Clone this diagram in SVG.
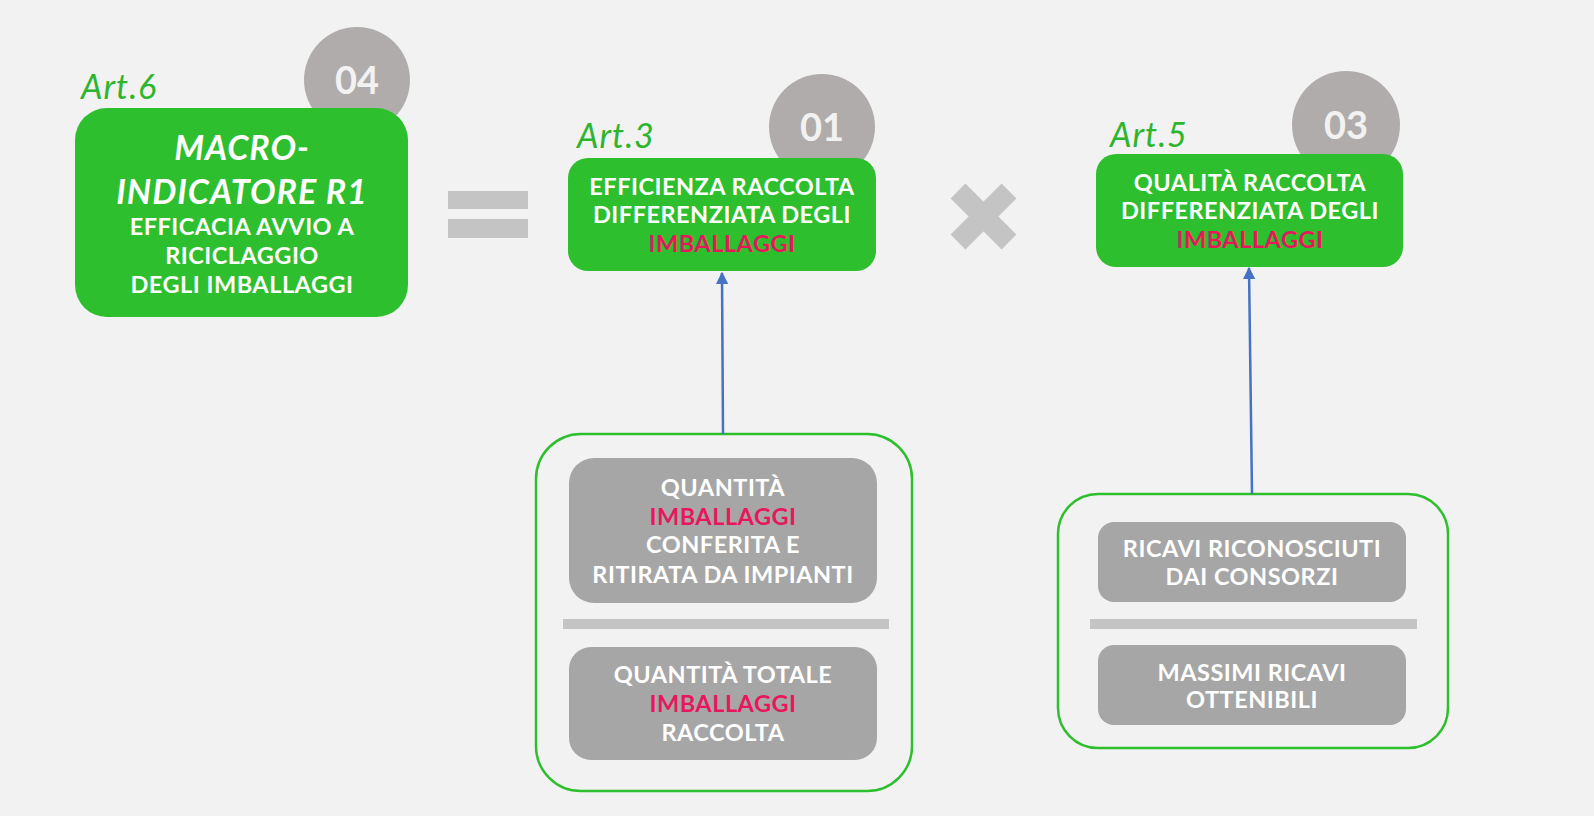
<svg xmlns="http://www.w3.org/2000/svg" width="1594" height="816" viewBox="0 0 1594 816">
<defs>
<style>
.bg{fill:#f2f2f2}
.green{fill:#2dbf2d}
.circ{fill:#b0acab}
.gbox{fill:#a6a6a6}
.outer{fill:none;stroke:#2dbf2d;stroke-width:2.5}
.sep{fill:#c4c4c4}
.art{font-family:Lato,"Liberation Sans",sans-serif;font-style:italic;font-size:34px;letter-spacing:1px;fill:#2db52d}
.num{font-family:Lato,"Liberation Sans",sans-serif;font-weight:bold;font-size:38px;fill:#f2f2f2;text-anchor:middle}
.t{font-family:Lato,"Liberation Sans",sans-serif;font-weight:bold;font-size:23.5px;letter-spacing:0.5px;fill:#ffffff;text-anchor:middle}
.big{font-family:Lato,"Liberation Sans",sans-serif;font-weight:bold;font-style:italic;font-size:34px;letter-spacing:1px;fill:#ffffff;text-anchor:middle}
.pink{fill:#e8175d}
.conn{stroke:#4472c4;stroke-width:2.5;fill:none}
</style>
<marker id="ah" viewBox="0 0 10 10" refX="9" refY="5" markerWidth="5" markerHeight="5" orient="auto" markerUnits="strokeWidth">
<path d="M0,0 L10,5 L0,10 z" fill="#4472c4"/>
</marker>
</defs>
<rect class="bg" x="0" y="0" width="1594" height="816"/>

<g id="node-r1">
<circle class="circ" cx="357" cy="80" r="53"/>
<text class="num" x="357" y="94">04</text>
<text class="art" x="81" y="99">Art.6</text>
<rect class="green" x="75" y="108" width="333" height="209" rx="32"/>
<text class="big" x="242" y="160">MACRO-</text>
<text class="big" x="242" y="204">INDICATORE R1</text>
<text class="t" x="242" y="235">EFFICACIA AVVIO A</text>
<text class="t" x="242" y="264">RICICLAGGIO</text>
<text class="t" x="242" y="293">DEGLI IMBALLAGGI</text>
</g>

<g id="op-equals">
<rect class="sep" x="448" y="191" width="80" height="18"/>
<rect class="sep" x="448" y="219" width="80" height="19"/>
</g>

<g id="node-efficienza">
<circle class="circ" cx="822" cy="127" r="53"/>
<text class="num" x="822" y="141">01</text>
<text class="art" x="577" y="148">Art.3</text>
<rect class="green" x="568" y="158" width="308" height="113" rx="20"/>
<text class="t" x="722" y="195">EFFICIENZA RACCOLTA</text>
<text class="t" x="722" y="223">DIFFERENZIATA DEGLI</text>
<text class="t pink" x="722" y="252">IMBALLAGGI</text>
</g>

<g id="op-times">
<path d="M958,191 L1009,242 M1009,191 L958,242" stroke="#c4c4c4" stroke-width="21" fill="none"/>
</g>

<g id="node-qualita">
<circle class="circ" cx="1346" cy="125" r="54"/>
<text class="num" x="1346" y="139">03</text>
<text class="art" x="1110" y="147">Art.5</text>
<rect class="green" x="1096" y="154" width="307" height="113" rx="20"/>
<text class="t" x="1250" y="191">QUALITÀ RACCOLTA</text>
<text class="t" x="1250" y="219">DIFFERENZIATA DEGLI</text>
<text class="t pink" x="1250" y="248">IMBALLAGGI</text>
</g>

<g id="node-frac1">
<rect class="outer" x="536" y="434" width="376" height="357" rx="45"/>
<rect class="gbox" x="569" y="458" width="308" height="145" rx="25"/>
<text class="t" x="723" y="496">QUANTITÀ</text>
<text class="t pink" x="723" y="525">IMBALLAGGI</text>
<text class="t" x="723" y="553">CONFERITA E</text>
<text class="t" x="723" y="583">RITIRATA DA IMPIANTI</text>
<rect class="sep" x="563" y="619" width="326" height="10"/>
<rect class="gbox" x="569" y="647" width="308" height="113" rx="22"/>
<text class="t" x="723" y="683">QUANTITÀ TOTALE</text>
<text class="t pink" x="723" y="712">IMBALLAGGI</text>
<text class="t" x="723" y="741">RACCOLTA</text>
</g>

<g id="node-frac2">
<rect class="outer" x="1058" y="494" width="390" height="254" rx="40"/>
<rect class="gbox" x="1098" y="522" width="308" height="80" rx="16"/>
<text class="t" x="1252" y="557">RICAVI RICONOSCIUTI</text>
<text class="t" x="1252" y="585">DAI CONSORZI</text>
<rect class="sep" x="1090" y="619" width="327" height="10"/>
<rect class="gbox" x="1098" y="645" width="308" height="80" rx="16"/>
<text class="t" x="1252" y="681">MASSIMI RICAVI</text>
<text class="t" x="1252" y="708">OTTENIBILI</text>
</g>

<g id="connectors">
<line class="conn" x1="723" y1="434" x2="722" y2="273" marker-end="url(#ah)"/>
<line class="conn" x1="1252" y1="494" x2="1249" y2="268" marker-end="url(#ah)"/>
</g>
</svg>
